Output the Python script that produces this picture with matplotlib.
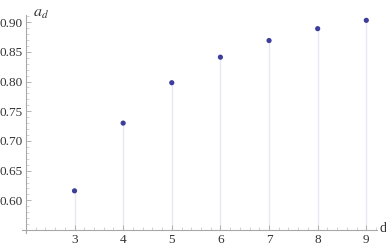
import numpy as np
import matplotlib.pyplot as plt
from matplotlib.ticker import MultipleLocator, FormatStrFormatter

# data
d_values = [3, 4, 5, 6, 7, 8, 9]
a_values = [0.616, 0.730, 0.798, 0.841, 0.869, 0.889, 0.903]

x_ticks = [3, 4, 5, 6, 7, 8, 9]
y_ticks = [0.60, 0.65, 0.70, 0.75, 0.80, 0.85, 0.90]

plt.rcParams["font.family"] = ["Liberation Serif", "DejaVu Serif"]
plt.rcParams["mathtext.fontset"] = "stix"

W, H = 386, 247
fig = plt.figure(figsize=(W / 100, H / 100), dpi=100)
left, right, bottom, top = 22, 377, 233, 15
ax = fig.add_axes([left / W, 1 - bottom / H, (right - left) / W, (bottom - top) / H])

# axes cross at (2, 0.55), lines poke out a little past the origin
x0, y0 = 2.0, 0.55
ax.set_xlim(1.92, 9.22)
ax.set_ylim(0.545, 0.912)
ax.spines["left"].set_position(("data", x0))
ax.spines["bottom"].set_position(("data", y0))

# filling from axis to points
ax.vlines(d_values, y0, a_values, color="#e8e8f2", linewidth=1.0, zorder=1)
ax.scatter(d_values, a_values, s=14, color="#3d3d9c", edgecolors="none", zorder=3)

for side in ["top", "right"]:
    ax.spines[side].set_visible(False)
for side in ["left", "bottom"]:
    ax.spines[side].set_color("#a8a8a8")
    ax.spines[side].set_linewidth(0.8)

ax.set_xticks(x_ticks)
ax.set_yticks(y_ticks)
ax.yaxis.set_major_formatter(FormatStrFormatter("%.2f"))
ax.xaxis.set_minor_locator(MultipleLocator(0.2))
ax.yaxis.set_minor_locator(MultipleLocator(0.01))
ax.tick_params(which="major", direction="in", length=3.5, width=0.6, color="#a8a8a8",
               labelsize=9.5, labelcolor="#333333", pad=2.5)
ax.tick_params(which="minor", direction="in", length=2, width=0.5, color="#c0c0c0")

ax.text(9.27, y0 + 0.003, "d", fontsize=10, color="#333333", va="center", ha="left",
        transform=ax.transData, clip_on=False)
ax.text(0.075, 1.01, r"$a_d$", fontsize=11.5, color="#333333", va="center",
        ha="right", transform=ax.transAxes)

fig.savefig("out.png", dpi=100)
